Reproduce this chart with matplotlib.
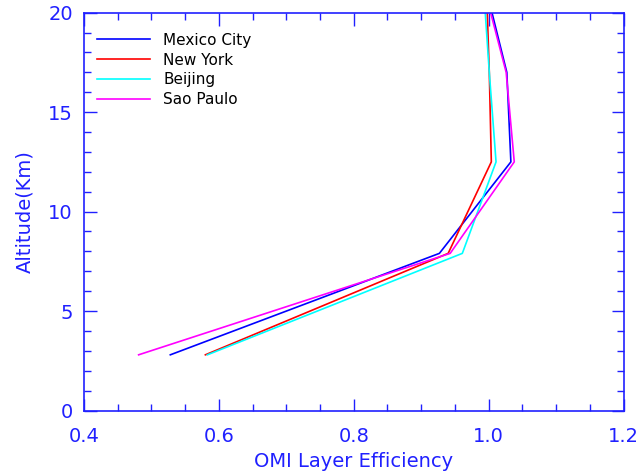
import matplotlib
matplotlib.use("Agg")
import matplotlib.pyplot as plt
from matplotlib.ticker import MultipleLocator

# Data (efficiency vs altitude in km)
alt_mexico = [2.8, 7.9, 12.5, 17.0, 20.0]
eff_mexico = [0.528, 0.927, 1.033, 1.027, 1.005]

alt_newyork = [2.8, 7.9, 12.5, 17.0, 20.0]
eff_newyork = [0.580, 0.940, 1.004, 1.001, 0.998]

alt_beijing = [2.8, 7.9, 12.5, 17.0, 20.0]
eff_beijing = [0.583, 0.961, 1.011, 1.001, 0.995]

alt_saopaulo = [2.8, 7.9, 12.5, 17.0, 20.0]
eff_saopaulo = [0.481, 0.943, 1.038, 1.026, 1.003]

names = ["Mexico City", "New York", "Beijing", "Sao Paulo"]
colors = ["#0000ff", "#ff0000", "#00ffff", "#ff00ff"]

axis_color = "#2020ff"

fig = plt.figure(figsize=(6.4, 4.75), dpi=100)
ax = fig.add_axes([84/640, 1-410.5/475, (623.5-84)/640, (410.5-12.7)/475])

series = [(eff_mexico, alt_mexico), (eff_newyork, alt_newyork),
          (eff_beijing, alt_beijing), (eff_saopaulo, alt_saopaulo)]
for (x, y), name, c in zip(series, names, colors):
    ax.plot(x, y, color=c, lw=1.2, label=name)

ax.set_xlim(0.4, 1.2)
ax.set_ylim(0, 20)
ax.xaxis.set_major_locator(MultipleLocator(0.2))
ax.xaxis.set_minor_locator(MultipleLocator(0.05))
ax.yaxis.set_major_locator(MultipleLocator(5))
ax.yaxis.set_minor_locator(MultipleLocator(1))
ax.set_xticks([0.4, 0.6, 0.8, 1.0, 1.2])
ax.set_xticklabels(["0.4", "0.6", "0.8", "1.0", "1.2"])

ax.tick_params(which="both", direction="in", top=True, right=True,
               color=axis_color, labelcolor=axis_color, labelsize=14)
ax.tick_params(which="major", length=9, width=1)
ax.tick_params(which="minor", length=5, width=1)
ax.tick_params(axis="x", pad=12)
ax.tick_params(axis="y", pad=8)
for s in ax.spines.values():
    s.set_color(axis_color)
    s.set_linewidth(1.2)

ax.set_xlabel("OMI Layer Efficiency", color=axis_color, fontsize=14, labelpad=4)
ax.set_ylabel("Altitude(Km)", color=axis_color, fontsize=14, labelpad=10)

leg = ax.legend(loc="upper left", bbox_to_anchor=(13/539.5, 1-20/397.8),
                frameon=False, fontsize=11, handlelength=3.5,
                handletextpad=0.85, labelspacing=0.32, borderpad=0,
                borderaxespad=0)

fig.savefig("out.png", dpi=100)
